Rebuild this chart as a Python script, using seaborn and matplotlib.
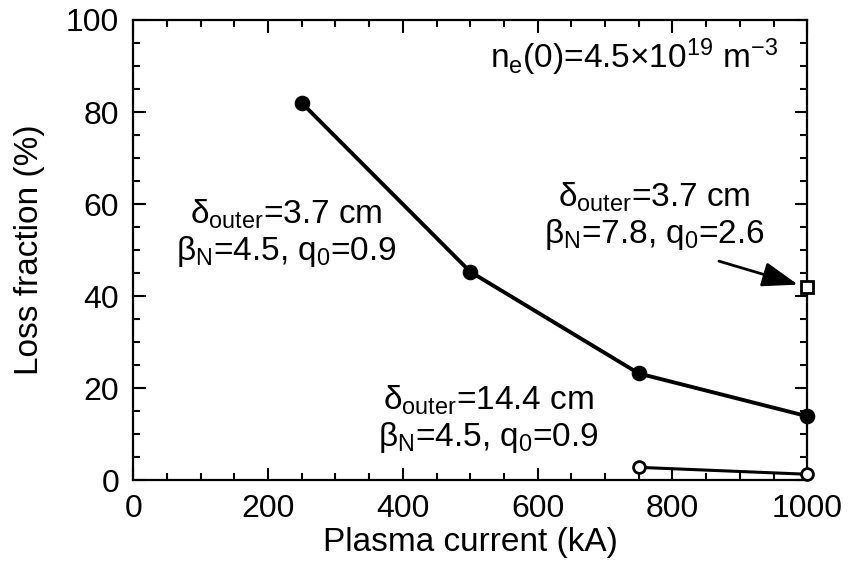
import matplotlib
matplotlib.use("Agg")
import matplotlib.pyplot as plt
import seaborn as sns
import pandas as pd

# Data
current_thin = [250, 500, 750, 1000]          # delta_outer = 3.7 cm
loss_thin = [82, 45.3, 23.2, 13.9]
current_thick = [750, 1000]                   # delta_outer = 14.4 cm
loss_thick = [2.8, 1.3]
current_high = [1000]                         # betaN = 7.8
loss_high = [41.9]

sns.set_theme(style="ticks")
plt.rcParams["font.family"] = ["Liberation Sans", "DejaVu Sans"]
plt.rcParams["mathtext.fontset"] = "custom"
plt.rcParams["mathtext.rm"] = "Liberation Sans"
plt.rcParams["mathtext.it"] = "Liberation Sans"
plt.rcParams["mathtext.bf"] = "Liberation Sans:bold"
plt.rcParams["text.color"] = "black"
plt.rcParams["axes.labelcolor"] = "black"

FS_TICK = 23
FS_LAB = 24
FS_ANN = 24

fig = plt.figure(figsize=(8.48, 5.63), dpi=100)
ax = fig.add_axes([0.157, 0.147, 0.795, 0.8175])

df_thin = pd.DataFrame({"x": current_thin, "y": loss_thin})
df_thick = pd.DataFrame({"x": current_thick, "y": loss_thick})
df_high = pd.DataFrame({"x": current_high, "y": loss_high})

sns.lineplot(data=df_thin, x="x", y="y", ax=ax, color="black", lw=2.8,
             marker="o", markersize=10.5, markerfacecolor="black",
             markeredgecolor="black", clip_on=False, zorder=3)
sns.lineplot(data=df_thick, x="x", y="y", ax=ax, color="black", lw=2.2,
             marker="o", markersize=8.5, markerfacecolor="white",
             markeredgecolor="black", markeredgewidth=2.0, clip_on=False, zorder=3)
sns.lineplot(data=df_high, x="x", y="y", ax=ax, color="black", lw=0,
             marker="s", markersize=8.5, markerfacecolor="white",
             markeredgecolor="black", markeredgewidth=2.0, clip_on=False, zorder=3)

ax.set_xlim(0, 1000)
ax.set_ylim(0, 100)
ax.set_xticks([0, 200, 400, 600, 800, 1000])
ax.set_yticks([0, 20, 40, 60, 80, 100])
ax.set_xticks(range(0, 1001, 50), minor=True)
ax.set_yticks(range(0, 101, 5), minor=True)
ax.tick_params(which="both", direction="in", top=True, right=True,
               width=1.5, colors="black", labelsize=FS_TICK)
ax.tick_params(which="major", length=9)
ax.tick_params(which="minor", length=5)
ax.tick_params(axis="x", which="major", pad=10)
ax.tick_params(axis="y", which="major", pad=10)
for s in ax.spines.values():
    s.set_linewidth(1.6)
    s.set_color("black")

ax.set_xlabel("Plasma current (kA)", fontsize=FS_LAB, labelpad=2)
ax.set_ylabel("Loss fraction (%)", fontsize=FS_LAB, labelpad=15)

ax.text(0.957, 0.918, r"n$_\mathrm{e}$(0)=4.5$\times$10$^{19}$ m$^{-3}$",
        transform=ax.transAxes, ha="right", va="center", fontsize=FS_ANN)

ax.text(227, 53.6, "δ$_\\mathrm{outer}$=3.7 cm\nβ$_\\mathrm{N}$=4.5, q$_\\mathrm{0}$=0.9",
        ha="center", va="center", fontsize=FS_ANN, linespacing=1.12)
ax.text(773, 57.3, "δ$_\\mathrm{outer}$=3.7 cm\nβ$_\\mathrm{N}$=7.8, q$_\\mathrm{0}$=2.6",
        ha="center", va="center", fontsize=FS_ANN, linespacing=1.12)
ax.text(527, 13.3, "δ$_\\mathrm{outer}$=14.4 cm\nβ$_\\mathrm{N}$=4.5, q$_\\mathrm{0}$=0.9",
        ha="center", va="center", fontsize=FS_ANN, linespacing=1.12)

ax.annotate("", xy=(current_high[0], loss_high[0]), xytext=(869, 47.6),
            arrowprops=dict(arrowstyle="-|>,head_length=1.1,head_width=0.38",
                            mutation_scale=20, lw=2, color="black",
                            shrinkA=0, shrinkB=7))

fig.savefig("out.png", dpi=100)
